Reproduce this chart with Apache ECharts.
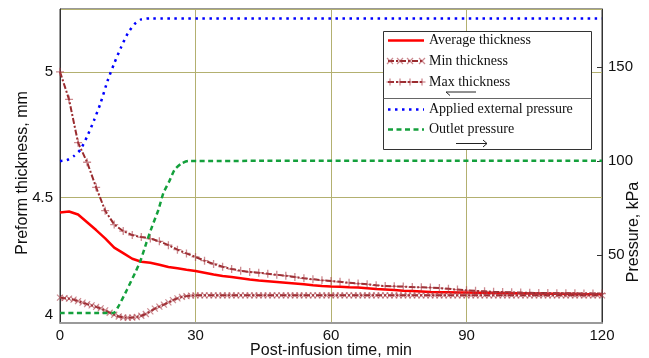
<!DOCTYPE html>
<html><head><meta charset="utf-8">
<script src="https://cdn.jsdelivr.net/npm/echarts@6/dist/echarts.min.js"></script>
<style>html,body{margin:0;padding:0;background:#fff;}#c{width:649px;height:358px;}</style>
</head><body><div id="c"></div>
<script>
// ---- data ----
const timeCoarse = [0,2,4,6,8,10,12,14,16,18,20,22,24,26,28,30,32,34,36,38,40,42,44,46,48,50,52,54,56,58,60,
  62,64,66,68,70,72,74,76,78,80,82,84,86,88,90,92,94,96,98,100,102,104,106,108,110,112,114,116,118,120];
const timeFine = [0,1,2,3,4,5,6,7,8,9,10,11,12,13,14,15,16,17,18,19,20,21,22,23,24,25,26,27,28,29,30,
  31,32,33,34,35,36,37,38,39,40,41,42,43,44,45,46,47,48,49,50,51,52,53,54,55,56,57,58,59,60,
  61,62,63,64,65,66,67,68,69,70,71,72,73,74,75,76,77,78,79,80,81,82,83,84,85,86,87,88,89,90,
  91,92,93,94,95,96,97,98,99,100,101,102,103,104,105,106,107,108,109,110,111,112,113,114,115,116,117,118,119,120];
const avgThickness = [4.440,4.444,4.432,4.401,4.370,4.337,4.300,4.278,4.256,4.244,4.240,4.232,4.223,4.218,4.212,4.207,
  4.200,4.193,4.187,4.183,4.178,4.173,4.169,4.166,4.163,4.160,4.157,4.154,4.150,4.147,4.145,
  4.144,4.142,4.141,4.138,4.135,4.133,4.131,4.128,4.127,4.125,4.123,4.122,4.122,4.121,4.121,
  4.120,4.120,4.119,4.119,4.118,4.118,4.117,4.117,4.116,4.116,4.115,4.115,4.114,4.114,4.114];
const maxThickness = [5.000,4.890,4.718,4.640,4.540,4.447,4.392,4.366,4.350,4.342,4.336,4.325,4.310,4.292,4.277,4.263,
  4.248,4.235,4.224,4.215,4.208,4.203,4.200,4.196,4.192,4.188,4.183,4.178,4.174,4.170,4.167,
  4.164,4.160,4.157,4.154,4.150,4.147,4.146,4.145,4.143,4.142,4.141,4.139,4.136,4.133,4.130,
  4.128,4.126,4.124,4.123,4.122,4.121,4.120,4.119,4.119,4.118,4.118,4.118,4.117,4.117,4.117];
const minThickness = [4.101,4.099,4.097,4.093,4.087,4.081,4.075,4.070,4.064,4.058,4.050,4.041,4.033,4.026,4.022,4.021,
  4.022,4.024,4.029,4.036,4.046,4.057,4.065,4.073,4.082,4.091,4.098,4.104,4.107,4.109,4.110,
  4.11,4.11,4.11,4.11,4.11,4.11,4.11,4.11,4.11,4.11,
  4.11,4.11,4.11,4.11,4.11,4.11,4.11,4.11,4.11,4.11,
  4.11,4.11,4.11,4.11,4.11,4.11,4.11,4.11,4.11,4.11,
  4.11,4.11,4.11,4.11,4.11,4.11,4.11,4.11,4.11,4.11,
  4.11,4.11,4.11,4.11,4.11,4.11,4.11,4.11,4.11,4.11,
  4.11,4.11,4.11,4.11,4.11,4.11,4.11,4.11,4.11,4.11,
  4.11,4.11,4.11,4.11,4.11,4.11,4.11,4.11,4.11,4.11,
  4.11,4.11,4.11,4.11,4.11,4.11,4.11,4.11,4.11,4.11,
  4.11,4.11,4.11,4.11,4.11,4.11,4.11,4.11,4.11,4.11];
const appliedTime = [0,1.5,3,4.5,6,7.5,9,10.5,12,13.5,15,16.5,18,20,120];
const appliedPressure = [100,100.5,102.5,106,113,121.5,131,142.5,152,160.5,168,173,175.5,176,176];
const outletTime = [0,11.8,12.9,14.8,16.6,17.9,19.1,20.4,21.8,22.9,24.2,25.4,26.9,28.4,120];
const outletPressure = [19,19,22.4,31.3,40.3,47.4,56.3,65.2,74.1,83,89.2,95.5,98.7,100,100.2];
const xTicks = [0,30,60,90,120];
const thicknessTicks = [4,4.5,5];
const pressureTicks = [50,100,150];

const zip = (t, v) => t.map((x, i) => [x, v[i]]);
const SANS = '"Liberation Sans", Arial, sans-serif';
const SERIF = '"Liberation Serif", "Times New Roman", serif';
const GRIDC = '#b3b070';
const BROWN = '#9a2b2e';
const MARK = 'rgba(170,60,70,0.6)';
const xPath = 'path://M0,0L10,10M10,0L0,10';
const plusPath = 'path://M5,0L5,10M0,5L10,5';

const chart = echarts.init(document.getElementById('c'), null, {renderer: 'canvas'});

// legend drawn as graphic elements
const LX0 = 388, LX1 = 424, TX = 429;
const rows = {avg: 40.5, min: 61, max: 82, app: 109.5, out: 129.5};
const g = [];
g.push({type:'rect', shape:{x:383.5, y:31.5, width:208, height:118}, style:{fill:'#fff', stroke:'#333', lineWidth:1}, z:100});
g.push({type:'line', shape:{x1:383.5, y1:98.5, x2:591.5, y2:98.5}, style:{stroke:'#666', lineWidth:1}, z:101});
g.push({type:'line', shape:{x1:LX0, y1:rows.avg, x2:LX1, y2:rows.avg}, style:{stroke:'#ff0000', lineWidth:2.5}, z:101});
g.push({type:'line', shape:{x1:LX0, y1:rows.min, x2:LX1, y2:rows.min}, style:{stroke:BROWN, lineWidth:2, lineDash:[6,2,2,2]}, z:101});
[LX0+2, LX0+12, LX0+22, LX1-2].forEach(x => {
  g.push({type:'polyline', shape:{points:[[x-3,rows.min-3],[x+3,rows.min+3]]}, style:{stroke:MARK, lineWidth:1.3, fill:null}, z:102});
  g.push({type:'polyline', shape:{points:[[x-3,rows.min+3],[x+3,rows.min-3]]}, style:{stroke:MARK, lineWidth:1.3, fill:null}, z:102});
});
g.push({type:'line', shape:{x1:LX0, y1:rows.max, x2:LX1, y2:rows.max}, style:{stroke:BROWN, lineWidth:2, lineDash:[6,2,2,2]}, z:101});
[LX0+2, LX0+12, LX0+22, LX1-2].forEach(x => {
  g.push({type:'line', shape:{x1:x, y1:rows.max-3.5, x2:x, y2:rows.max+3.5}, style:{stroke:MARK, lineWidth:1.3}, z:102});
  g.push({type:'line', shape:{x1:x-3.5, y1:rows.max, x2:x+3.5, y2:rows.max}, style:{stroke:MARK, lineWidth:1.3}, z:102});
});
g.push({type:'line', shape:{x1:LX0, y1:rows.app, x2:LX1, y2:rows.app}, style:{stroke:'#0000ff', lineWidth:2.5, lineDash:[2.5,4.5]}, z:101});
g.push({type:'line', shape:{x1:LX0, y1:rows.out, x2:LX1, y2:rows.out}, style:{stroke:'#14a03c', lineWidth:2.5, lineDash:[5,3.5]}, z:101});
const labels = [['Average thickness', rows.avg], ['Min thickness', rows.min], ['Max thickness', rows.max],
  ['Applied external pressure', rows.app], ['Outlet pressure', rows.out]];
labels.forEach(([t, y]) => g.push({type:'text', style:{text:t, x:TX, y:y, font:'14px ' + SERIF, fill:'#111', verticalAlign:'middle', align:'left'}, z:102}));
// arrows
g.push({type:'polyline', shape:{points:[[476,92],[446,92]]}, style:{stroke:'#222', lineWidth:1, fill:null}, z:102});
g.push({type:'polyline', shape:{points:[[450,95.5],[446,92]]}, style:{stroke:'#222', lineWidth:1, fill:null}, z:102});
g.push({type:'polyline', shape:{points:[[456,143.5],[487,143.5]]}, style:{stroke:'#222', lineWidth:1, fill:null}, z:102});
g.push({type:'polyline', shape:{points:[[483,140],[487,143.5],[483,147]]}, style:{stroke:'#222', lineWidth:1, fill:null}, z:102});

const option = {
  animation: false,
  backgroundColor: '#fff',
  grid: {left: 60, right: 47, top: 9, bottom: 35, outerBoundsMode: 'none', containLabel: false,
    show: true, borderColor: '#333', borderWidth: 1, backgroundColor: 'transparent'},
  xAxis: [{
    type: 'value', min: 0, max: 120, interval: 30, position: 'bottom',
    name: 'Post-infusion time, min', nameLocation: 'middle', nameGap: 20, nameMoveOverlap: false,
    nameTextStyle: {fontFamily: SANS, fontSize: 16, color: '#111'},
    axisLine: {show: true, lineStyle: {color: '#9a9a9a', width: 2}},
    axisTick: {show: false},
    axisLabel: {fontFamily: SANS, fontSize: 15, color: '#111', margin: 5, customValues: xTicks},
    splitLine: {show: true, lineStyle: {color: GRIDC, width: 1}}
  }],
  yAxis: [{
    type: 'value', min: 4, max: 5.25, interval: 0.5, position: 'left',
    name: 'Preform thickness, mm', nameLocation: 'middle', nameGap: 29, nameMoveOverlap: false,
    nameTextStyle: {fontFamily: SANS, fontSize: 16, color: '#111', padding: [0, 14, 0, 0]},
    axisLine: {show: true, lineStyle: {color: '#333', width: 1}},
    axisTick: {show: false},
    axisLabel: {fontFamily: SANS, fontSize: 15, color: '#111', margin: 7, customValues: thicknessTicks,
      formatter: v => v === 4 ? '{lo|4}' : String(v),
      rich: {lo: {fontFamily: SANS, fontSize: 15, color: '#111', padding: [0, 0, 16, 0]}}},
    splitLine: {show: true, lineStyle: {color: GRIDC, width: 1}}
  }, {
    type: 'value', min: 13.7, max: 181, position: 'right',
    name: 'Pressure, kPa', nameLocation: 'middle', nameGap: 24, nameMoveOverlap: false,
    nameTextStyle: {fontFamily: SANS, fontSize: 16, color: '#111', padding: [0, 132, 0, 0]},
    axisLine: {show: true, lineStyle: {color: '#333', width: 1}},
    axisTick: {show: true, inside: true, length: 5, customValues: pressureTicks, lineStyle: {color: '#333'}},
    axisLabel: {fontFamily: SANS, fontSize: 15, color: '#111', margin: 6, customValues: pressureTicks},
    splitLine: {show: false}
  }],
  graphic: {elements: g},
  series: [{
    name: 'Average thickness', type: 'line', yAxisIndex: 0, data: zip(timeCoarse, avgThickness),
    showSymbol: false, lineStyle: {color: '#ff0000', width: 2.5}, z: 3
  }, {
    name: 'Min thickness', type: 'line', yAxisIndex: 0, data: zip(timeFine, minThickness),
    symbol: xPath, symbolSize: 6, showSymbol: true,
    itemStyle: {color: 'none', borderColor: MARK, borderWidth: 1.2},
    lineStyle: {color: BROWN, width: 2, type: [6, 2, 2, 2]}, z: 4
  }, {
    name: 'Max thickness', type: 'line', yAxisIndex: 0, data: zip(timeCoarse, maxThickness),
    symbol: plusPath, symbolSize: 8, showSymbol: true,
    itemStyle: {color: 'none', borderColor: MARK, borderWidth: 1.3},
    lineStyle: {color: BROWN, width: 2, type: [6, 2, 2, 2]}, z: 4
  }, {
    name: 'Applied external pressure', type: 'line', yAxisIndex: 1, data: zip(appliedTime, appliedPressure),
    showSymbol: false, smooth: 0.2, lineStyle: {color: '#0000ff', width: 2.5, type: [2.5, 4.5]}, z: 5
  }, {
    name: 'Outlet pressure', type: 'line', yAxisIndex: 1, data: zip(outletTime, outletPressure),
    showSymbol: false, smooth: 0.2, lineStyle: {color: '#14a03c', width: 2.5, type: [5, 3.5]}, z: 5
  }]
};
chart.setOption(option);
</script>
</body></html>
